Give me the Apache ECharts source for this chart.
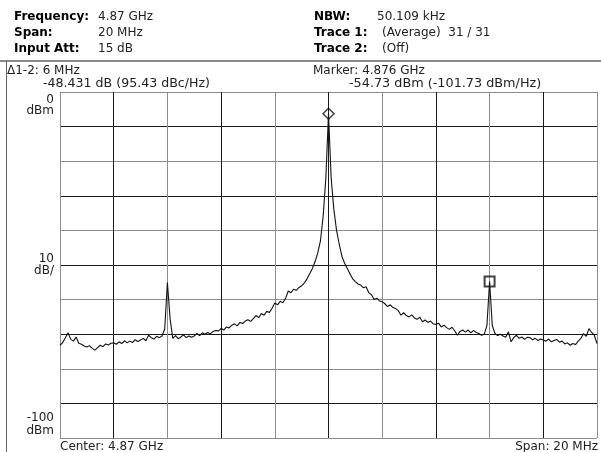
<!DOCTYPE html>
<html>
<head>
<meta charset="utf-8">
<script src="https://cdn.jsdelivr.net/npm/echarts@6/dist/echarts.min.js"></script>
<style>html,body{margin:0;padding:0;background:#fff;}#c{width:601px;height:452px;}</style>
</head>
<body>
<div id="c"></div>
<script>
// Span 4.86 .. 4.88 GHz, trace sampled every 0.1 MHz (offset from 4.86 GHz)
const spanStartGHz = 4.86;
const stepMHz = 0.1;
const xTicksMHz = [0, 2, 4, 6, 8, 10, 12, 14, 16, 18, 20];
const yTicksDbm = [0, -10, -20, -30, -40, -50, -60, -70, -80, -90, -100];
const traceDbm = [
  -73.2, -72.4, -71.0, -69.6, -71.5, -72.0, -70.8, -72.6, -72.9, -73.4,
  -73.7, -73.3, -74.1, -74.6, -73.9, -73.2, -73.6, -72.8, -73.1, -72.6,
  -72.5, -72.9, -72.2, -72.7, -71.9, -72.5, -72.0, -72.4, -71.6, -72.1,
  -71.7, -71.2, -71.9, -70.3, -71.0, -71.4, -70.6, -71.0, -70.5, -68.5,
  -55.1, -65.5, -71.2, -70.4, -71.3, -70.8, -70.2, -71.0, -70.5, -70.9,
  -70.5, -69.8, -70.4, -69.6, -70.0, -69.5, -69.9, -69.2, -68.9, -69.1,
  -68.3, -68.8, -67.9, -68.2, -67.4, -67.0, -67.6, -66.6, -66.9, -66.2,
  -65.8, -66.3, -65.5, -64.6, -65.2, -64.0, -64.5, -63.4, -63.7, -62.5,
  -61.0, -61.5, -60.5, -60.9, -59.7, -57.5, -58.0, -57.0, -57.3, -56.5,
  -56.0, -55.2, -54.0, -52.5, -51.0, -49.0, -46.5, -43.0, -36.0, -25.0,
  -6.3, -25.0, -34.0, -40.0, -44.0, -47.5, -49.5, -51.0, -52.5, -54.0,
  -54.8, -55.5, -55.8, -56.6, -56.3, -58.0, -58.6, -60.0, -59.6, -60.4,
  -60.6, -61.2, -62.0, -61.5, -62.3, -62.6, -63.2, -64.5, -63.8, -64.6,
  -65.0, -64.4, -65.3, -65.7, -65.1, -66.4, -65.9, -66.6, -66.2, -67.0,
  -67.2, -66.8, -67.9, -67.4, -68.1, -68.6, -68.0, -69.0, -70.3, -69.2,
  -68.8, -69.4, -68.8, -69.6, -68.9, -69.5, -69.8, -70.3, -70.0, -67.5,
  -54.8, -67.5, -69.8, -70.4, -70.0, -70.5, -70.9, -69.3, -72.2, -71.0,
  -70.3, -71.2, -70.8, -71.5, -70.9, -71.0, -71.6, -71.2, -71.8, -71.4,
  -71.7, -72.0, -71.4, -72.2, -71.8, -71.5, -72.3, -72.0, -72.8, -72.5,
  -73.2, -72.7, -73.0, -72.0, -71.2, -69.8, -70.6, -68.4, -69.5, -70.3,
  -72.7
];
const marker1MHz = 10;   // 4.870 GHz
const marker2MHz = 16;   // 4.876 GHz
const headerLeft = [["Frequency:", "4.87 GHz"], ["Span:", "20 MHz"], ["Input Att:", "15 dB"]];
const headerRight = [["NBW:", "50.109 kHz"], ["Trace 1:", "(Average)  31 / 31"], ["Trace 2:", "(Off)"]];

const traceData = traceDbm.map((v, i) => [i * stepMHz, v]);
const m1 = [marker1MHz, traceDbm[Math.round(marker1MHz / stepMHz)]];
const m2 = [marker2MHz, traceDbm[Math.round(marker2MHz / stepMHz)]];

const FONT = '"DejaVu Sans", sans-serif';
function txt(text, x, y, opts) {
  opts = opts || {};
  return {
    type: 'text', silent: true,
    style: {
      text: text, x: x, y: y,
      fill: opts.fill || '#222',
      font: (opts.bold ? 'bold ' : '') + (opts.size || 12) + 'px ' + FONT,
      textAlign: opts.align || 'left',
      textVerticalAlign: 'middle'
    }
  };
}
const graphics = [];
const rowY = [16.5, 33, 49];
headerLeft.forEach((r, i) => {
  graphics.push(txt(r[0], 14, rowY[i], {bold: true, fill: '#000'}));
  graphics.push(txt(r[1], 98, rowY[i]));
});
headerRight.forEach((r, i) => {
  graphics.push(txt(r[0], 314, rowY[i], {bold: true, fill: '#000'}));
  graphics.push(txt(r[1], i === 0 ? 377 : 382, rowY[i]));
});
graphics.push({type: 'line', silent: true, shape: {x1: 0, y1: 61, x2: 601, y2: 61}, style: {stroke: '#8a8a8a', lineWidth: 2}});
graphics.push({type: 'line', silent: true, shape: {x1: 6.5, y1: 61, x2: 6.5, y2: 452}, style: {stroke: '#666', lineWidth: 1}});
graphics.push(txt('\u03941-2: 6 MHz', 7, 71));
graphics.push(txt('-48.431 dB (95.43 dBc/Hz)', 43, 83.5, {size: 12.6}));
graphics.push(txt('Marker: 4.876 GHz', 313, 71));
graphics.push(txt('-54.73 dBm (-101.73 dBm/Hz)', 349, 83.5, {size: 12.8}));
graphics.push(txt('0', 54, 99.5, {align: 'right'}));
graphics.push(txt('dBm', 54, 111, {align: 'right'}));
graphics.push(txt('10', 54, 258.5, {align: 'right'}));
graphics.push(txt('dB/', 54, 271, {align: 'right'}));
graphics.push(txt('-100', 54, 417.5, {align: 'right'}));
graphics.push(txt('dBm', 54, 431, {align: 'right'}));
graphics.push(txt('Center: 4.87 GHz', 60, 446.5));
graphics.push(txt('Span: 20 MHz', 598, 446.5, {align: 'right'}));

const chart = echarts.init(document.getElementById('c'), null, {renderer: 'canvas'});
chart.setOption({
  animation: false,
  backgroundColor: '#fff',
  grid: {left: 60, right: 4, top: 92, bottom: 14},
  xAxis: {
    type: 'value', min: xTicksMHz[0], max: xTicksMHz[xTicksMHz.length - 1], interval: 2,
    axisLine: {show: false}, axisTick: {show: false}, axisLabel: {show: false},
    splitLine: {show: true, lineStyle: {color: ['#8c8c8c', '#1a1a1a'], width: 1}}
  },
  yAxis: {
    type: 'value', min: yTicksDbm[yTicksDbm.length - 1], max: yTicksDbm[0], interval: 10,
    axisLine: {show: false}, axisTick: {show: false}, axisLabel: {show: false},
    splitLine: {show: true, lineStyle: {color: ['#8c8c8c', '#1a1a1a'], width: 1}}
  },
  series: [
    {
      type: 'line', data: traceData, showSymbol: false, symbol: 'none',
      lineStyle: {color: '#111', width: 1.1}, sampling: null, z: 3
    },
    {
      type: 'scatter', data: [m1], symbol: 'diamond', symbolSize: [11, 11],
      itemStyle: {color: 'rgba(255,255,255,0)', borderColor: '#111', borderWidth: 1.5}, z: 4
    },
    {
      type: 'scatter', data: [m2], symbol: 'rect', symbolSize: [10, 10],
      itemStyle: {color: 'rgba(255,255,255,0)', borderColor: '#111', borderWidth: 2}, z: 4
    }
  ],
  graphic: graphics
});
</script>
</body>
</html>
